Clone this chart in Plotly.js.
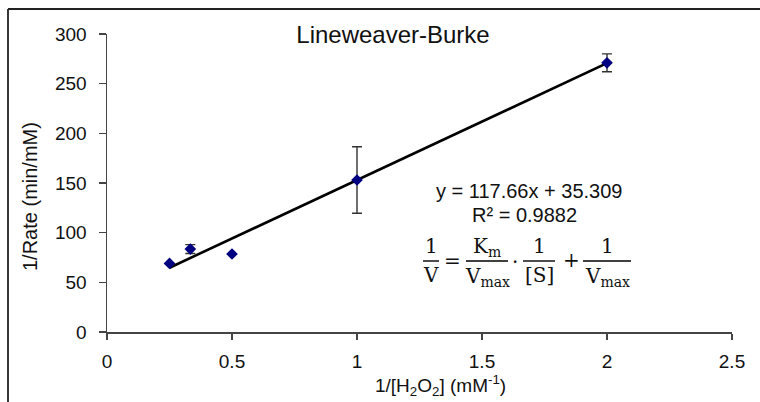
<!DOCTYPE html>
<html>
<head>
<meta charset="utf-8">
<script src="https://cdn.plot.ly/plotly-3.0.1.min.js"></script>
<style>html,body{margin:0;padding:0;background:#fff;}#chart{width:760px;height:402px;}</style>
</head>
<body>
<div id="chart"></div>
<script>
// ---- data ----
const xValues = [0.25, 0.3333, 0.5, 1, 2];          // 1/[H2O2] (mM^-1)
const yValues = [69, 83.5, 78.5, 153, 271];          // 1/Rate (min/mM)
const yErrors = [0, 4.5, 0, 33.5, 9];
const slope = 117.66;
const intercept = 35.309;
const rSquared = 0.9882;
const xTicks = [0, 0.5, 1, 1.5, 2, 2.5];
const yTicks = [0, 50, 100, 150, 200, 250, 300];

// ---- layout helpers (pixel -> paper) ----
const L = 107, R = 732, T = 34, B = 332;
const px = p => (p - L) / (R - L);
const py = p => (B - p) / (B - T);

const sans = 'Liberation Sans, Arial, sans-serif';
const serif = 'DejaVu Serif, Liberation Serif, serif';
const txt = '#111';

const xMin = Math.min(...xValues), xMax = Math.max(...xValues);
const trendX = [xMin, xMax];
const trendY = trendX.map(v => slope * v + intercept);

const traces = [
  {
    x: trendX, y: trendY, mode: 'lines', type: 'scatter',
    line: {color: '#000', width: 2.6}, hoverinfo: 'skip', showlegend: false
  },
  {
    x: xValues, y: yValues, mode: 'markers', type: 'scatter',
    marker: {symbol: 'diamond', size: 9, color: '#000080'},
    error_y: {type: 'data', array: yErrors, visible: true, color: '#333', thickness: 1.4, width: 5},
    showlegend: false
  }
];

function ann(text, x, y, size, family, extra) {
  return Object.assign({
    text: text, x: px(x), y: py(y), xref: 'paper', yref: 'paper',
    xanchor: 'center', yanchor: 'middle', showarrow: false,
    font: {family: family, size: size, color: txt}
  }, extra || {});
}

const fs = 20;
const annotations = [
  ann('1/Rate (min/mM)', 30, 197, 20, sans, {textangle: -90}),
  ann('1/[H<sub>2</sub>O<sub>2</sub>] (mM<sup>-1</sup>)', 440, 385, 19, sans),
  ann('y = ' + slope + 'x + ' + intercept, 529, 191, 20, sans),
  ann('R² = ' + rSquared, 524, 215, 20, sans),
  ann('1', 431, 246, fs, serif),
  ann('V', 431, 275, fs, serif),
  ann('=', 452, 261, fs, serif),
  ann('K<sub>m</sub>', 487, 247, fs, serif),
  ann('V<sub>max</sub>', 487, 277, fs, serif),
  ann('·', 515, 262, fs, serif),
  ann('1', 539, 246, fs, serif),
  ann('[S]', 539, 275, fs, serif),
  ann('+', 571, 260, fs, serif),
  ann('1', 607, 246, fs, serif),
  ann('V<sub>max</sub>', 607, 277, fs, serif)
];

function hline(x0, x1, y, w, c) {
  return {type: 'line', xref: 'paper', yref: 'paper', x0: px(x0), x1: px(x1), y0: py(y), y1: py(y),
          line: {color: c || '#000', width: w || 1.4}};
}
const shapes = [
  hline(423, 439, 261),
  hline(466, 508, 261),
  hline(523, 555, 261),
  hline(583, 631, 261),
  // outer chart border (left and top)
  {type: 'line', xref: 'paper', yref: 'paper', x0: px(8), x1: px(8), y0: py(9), y1: py(410),
   line: {color: '#222', width: 1.8}},
  {type: 'line', xref: 'paper', yref: 'paper', x0: px(8), x1: px(770), y0: py(9), y1: py(9),
   line: {color: '#222', width: 1.8}}
];

const layout = {
  width: 760, height: 402,
  margin: {l: L, r: 760 - R, t: T, b: 402 - B},
  paper_bgcolor: '#fff', plot_bgcolor: '#fff',
  title: {text: 'Lineweaver-Burke', font: {family: sans, size: 24, color: txt},
          xref: 'container', yref: 'container', x: 393 / 760, y: 1 - 35 / 402,
          xanchor: 'center', yanchor: 'middle'},
  xaxis: {
    range: [0, 2.5], tickvals: xTicks, showgrid: false, zeroline: false,
    showline: true, linecolor: '#444', linewidth: 1.5,
    ticks: 'outside', ticklen: 6, tickcolor: '#444', tickwidth: 1.5,
    tickfont: {family: sans, size: 19, color: txt}, ticklabelstandoff: 6
  },
  yaxis: {
    range: [0, 300], tickvals: yTicks, showgrid: false, zeroline: false,
    showline: true, linecolor: '#444', linewidth: 1.5,
    ticks: 'outside', ticklen: 7, tickcolor: '#444', tickwidth: 1.5,
    tickfont: {family: sans, size: 19, color: txt}, ticklabelstandoff: 8
  },
  annotations: annotations,
  shapes: shapes,
  showlegend: false
};

Plotly.newPlot('chart', traces, layout, {displayModeBar: false, staticPlot: true});
</script>
</body>
</html>
